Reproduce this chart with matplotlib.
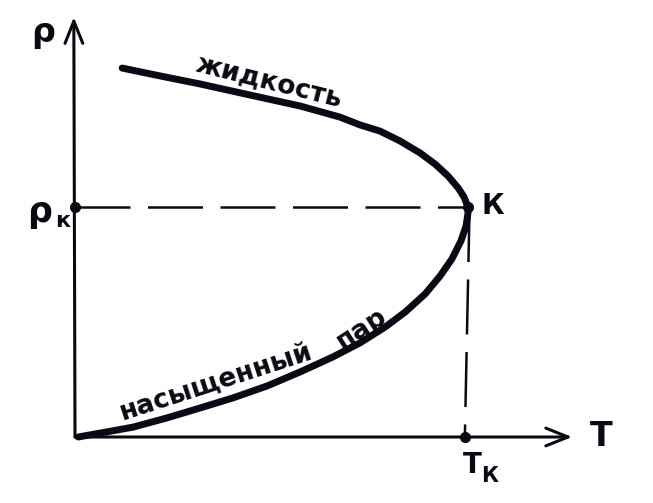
import matplotlib
matplotlib.use("Agg")
import matplotlib.pyplot as plt

# --- data (T / T_k, rho / rho_k) ---
liquid_T = [0.120, 0.216, 0.318, 0.445, 0.573, 0.674, 0.725, 0.776, 0.827, 0.878, 0.916, 0.949, 0.975, 0.990, 1.000]
liquid_rho = [1.604, 1.570, 1.535, 1.487, 1.439, 1.391, 1.357, 1.330, 1.287, 1.235, 1.187, 1.135, 1.083, 1.043, 1.000]

vapor_T = [0.008, 0.064, 0.148, 0.234, 0.318, 0.402, 0.489, 0.573, 0.656, 0.725, 0.789, 0.840, 0.891, 0.929, 0.959, 0.982, 0.995, 1.000, 1.000]
vapor_rho = [0.000, 0.017, 0.043, 0.083, 0.126, 0.170, 0.222, 0.283, 0.348, 0.409, 0.478, 0.543, 0.622, 0.700, 0.774, 0.852, 0.917, 0.974, 1.000]

T_k = 1.0
rho_k = 1.0
T_axis_end = 1.265
rho_axis_end = 1.826

label_liquid = "жидкость"
label_vapor1 = "насыщенный"
label_vapor2 = "пар"

fig = plt.figure(figsize=(6.53, 5.03), dpi=100)
ax = fig.add_axes([0, 0, 1, 1])
ax.set_xlim(-75 / 393, (653 - 75) / 393)
ax.set_ylim((437 - 503) / 230, 437 / 230)
ax.axis("off")

ink = "#0a0a14"

# axes with open arrow heads
arrow_kw = dict(arrowstyle="->,head_length=0.8,head_width=0.32", lw=2.2, color=ink,
                mutation_scale=20, shrinkA=0, shrinkB=0)
ax.annotate("", xy=(T_axis_end, 0), xytext=(0, 0), arrowprops=arrow_kw)
ax.annotate("", xy=(-0.003, rho_axis_end), xytext=(0, 0), arrowprops=arrow_kw)

# dashed guide lines
ax.plot([0, T_k], [rho_k, rho_k], color=ink, lw=1.8, dashes=(22, 7), solid_capstyle="butt")
ax.plot([T_k + 0.004, T_k - 0.008], [rho_k, 0], color=ink, lw=1.8, dashes=(22, 7))

# curves
ax.plot(liquid_T, liquid_rho, color=ink, lw=5, solid_capstyle="round", solid_joinstyle="round")
ax.plot(vapor_T, vapor_rho, color=ink, lw=5, solid_capstyle="round", solid_joinstyle="round")

# points
ax.plot([0, T_k, T_k - 0.008], [rho_k, rho_k, 0], "o", color=ink, ms=7)

fkw = dict(color=ink, fontweight="bold", family="DejaVu Sans")

# axis labels
ax.text(-0.082, 1.76, "ρ", fontsize=24, ha="center", va="center", **fkw)
ax.text(1.34, 0.0, "T", fontsize=24, ha="center", va="center", **fkw)
ax.text(-0.09, 0.98, "ρ", fontsize=25, ha="center", va="center", **fkw)
ax.text(-0.032, 0.94, "к", fontsize=16, ha="center", va="center", **fkw)
ax.text(1.063, 1.005, "К", fontsize=20, ha="center", va="center", **fkw)
ax.text(1.01, -0.12, "T", fontsize=20, ha="center", va="center", **fkw)
ax.text(1.055, -0.17, "К", fontsize=15, ha="center", va="center", **fkw)

# curve labels
ax.text(0.494, 1.545, label_liquid, fontsize=19, rotation=-14, rotation_mode="anchor",
        ha="center", va="center", **fkw)
ax.text(0.36, 0.235, label_vapor1, fontsize=19, rotation=18, rotation_mode="anchor",
        ha="center", va="center", **fkw)
ax.text(0.73, 0.47, label_vapor2, fontsize=19, rotation=33, rotation_mode="anchor",
        ha="center", va="center", **fkw)

fig.savefig("out.png", dpi=100, facecolor="white")
